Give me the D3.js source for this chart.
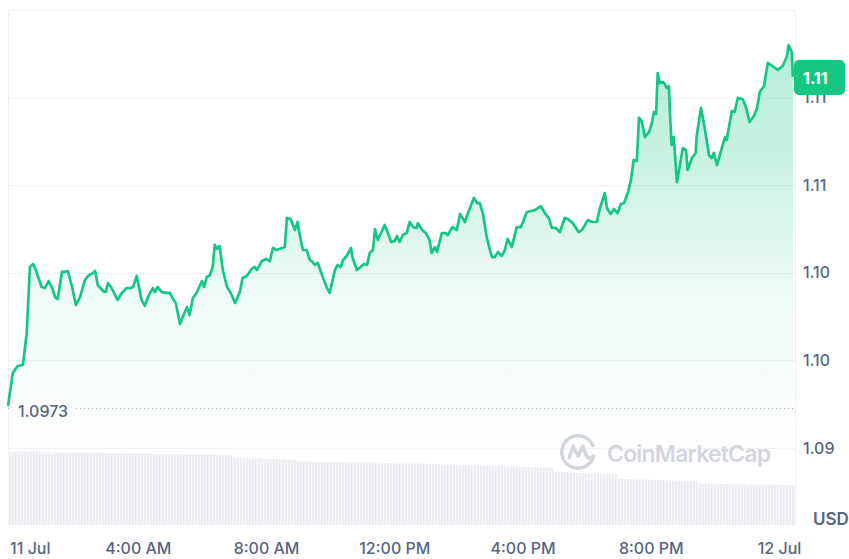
<!DOCTYPE html>
<html>
<head>
<meta charset="utf-8">
<script src="https://cdn.jsdelivr.net/npm/d3@7"></script>
<style>
  body { margin: 0; background: #fff; }
  svg { display: block; font-family: Inter, "Noto Sans", sans-serif; }
</style>
</head>
<body>
<div id="chart"></div>
<script>
// minutes after 11 Jul 00:00 (UTC) for every price point
const priceMinutes = [
  -3, 6, 15, 25, 32, 38, 44, 49, 60, 66,
  73, 79, 85, 90, 98, 103, 109, 117, 124, 132,
  141, 147, 156, 160, 165, 175, 180, 184, 191, 202,
  210, 219, 227, 231, 238, 242, 247, 253, 259, 268,
  272, 277, 285, 294, 300, 306, 311, 319, 324, 332,
  337, 343, 350, 360, 364, 369, 375, 380, 384, 388,
  393, 399, 407, 414, 422, 431, 436, 444, 453, 459,
  463, 472, 480, 487, 493, 500, 510, 515, 519, 526,
  534, 539, 543, 549, 556, 562, 567, 571, 577, 586,
  594, 599, 609, 614, 620, 624, 631, 639, 642, 650,
  657, 663, 669, 674, 680, 684, 689, 695, 702, 708,
  714, 721, 725, 730, 736, 743, 749, 755, 762, 764,
  772, 779, 786, 790, 796, 800, 809, 816, 820, 829,
  837, 843, 852, 858, 869, 875, 880, 886, 893, 899,
  903, 908, 914, 921, 927, 932, 940, 949, 957, 968,
  977, 983, 994, 1002, 1009, 1015, 1022, 1030, 1039, 1045,
  1054, 1065, 1071, 1077, 1082, 1090, 1099, 1105, 1114, 1118,
  1125, 1131, 1138, 1144, 1150, 1157, 1163, 1168, 1174, 1178,
  1183, 1189, 1197, 1202, 1206, 1210, 1213, 1217, 1223, 1226,
  1230, 1234, 1236, 1239, 1243, 1249, 1254, 1260, 1266, 1269,
  1277, 1284, 1286, 1294, 1301, 1309, 1314, 1318, 1324, 1333,
  1339, 1342, 1352, 1357, 1363, 1372, 1378, 1385, 1393, 1399,
  1404, 1412, 1419, 1428, 1438, 1447, 1455, 1458, 1464, 1466
];

const prices = [
  1.0974, 1.09928, 1.09968, 1.09974, 1.10156, 1.10533, 1.10550, 1.10516, 1.10419, 1.10413,
  1.10453, 1.10419, 1.10362, 1.10350, 1.10505, 1.10505, 1.10510, 1.10419, 1.10316, 1.10362,
  1.10459, 1.10482, 1.10499, 1.10510, 1.10430, 1.10396, 1.10390, 1.10442, 1.10413, 1.10345,
  1.10385, 1.10413, 1.10413, 1.10419, 1.10482, 1.10419, 1.10345, 1.10311, 1.10362, 1.10413,
  1.10390, 1.10419, 1.10390, 1.10385, 1.10385, 1.10350, 1.10328, 1.10208, 1.10248, 1.10305,
  1.10259, 1.10356, 1.10385, 1.10453, 1.10419, 1.10476, 1.10487, 1.10533, 1.10659, 1.10636,
  1.10653, 1.10516, 1.10419, 1.10385, 1.10328, 1.10390, 1.10470, 1.10482, 1.10522, 1.10533,
  1.10516, 1.10567, 1.10579, 1.10567, 1.10642, 1.10630, 1.10642, 1.10647, 1.10813, 1.10807,
  1.10744, 1.10790, 1.10716, 1.10630, 1.10630, 1.10573, 1.10562, 1.10545, 1.10556, 1.10476,
  1.10413, 1.10385, 1.10516, 1.10545, 1.10533, 1.10573, 1.10596, 1.10642, 1.10585, 1.10516,
  1.10533, 1.10550, 1.10545, 1.10613, 1.10630, 1.10750, 1.10687, 1.10727, 1.10773, 1.10727,
  1.10676, 1.10682, 1.10710, 1.10676, 1.10716, 1.10727, 1.10790, 1.10761, 1.10756, 1.10784,
  1.10744, 1.10727, 1.10687, 1.10613, 1.10647, 1.10619, 1.10727, 1.10727, 1.10716, 1.10761,
  1.10744, 1.10836, 1.10790, 1.10841, 1.10927, 1.10898, 1.10898, 1.10836, 1.10704, 1.10630,
  1.10590, 1.10590, 1.10619, 1.10596, 1.10630, 1.10693, 1.10647, 1.10761, 1.10761, 1.10847,
  1.10853, 1.10858, 1.10881, 1.10841, 1.10813, 1.10756, 1.10756, 1.10733, 1.10813, 1.10807,
  1.10784, 1.10733, 1.10744, 1.10773, 1.10801, 1.10790, 1.10790, 1.10870, 1.10955, 1.10870,
  1.10836, 1.10864, 1.10841, 1.10893, 1.10898, 1.10955, 1.11030, 1.11144, 1.11138, 1.11384,
  1.11366, 1.11275, 1.11304, 1.11355, 1.11418, 1.11406, 1.11640, 1.11583, 1.11589, 1.11578,
  1.11555, 1.11566, 1.11412, 1.11229, 1.11275, 1.11018, 1.11104, 1.11212, 1.11201, 1.11087,
  1.11155, 1.11184, 1.11281, 1.11441, 1.11327, 1.11172, 1.11155, 1.11184, 1.11115, 1.11212,
  1.11275, 1.11258, 1.11424, 1.11418, 1.11498, 1.11492, 1.11446, 1.11361, 1.11395, 1.11441,
  1.11532, 1.11566, 1.11698, 1.11680, 1.11658, 1.11680, 1.11737, 1.11800, 1.11760, 1.11618
];

const openPrice = 1.0973;

// 30-minute volume buckets, starting at -3 min
const volumes = [
  73, 73, 72.8, 72.5, 72.5, 72.3, 72, 72, 71.5, 71.2,
  71, 70.5, 70.5, 70, 67, 66.5, 66, 65.5, 63.5, 63,
  63, 62.5, 62.5, 62, 62, 61.5, 61, 60.5, 60, 59.5,
  59, 58.5, 58, 57.5, 53, 52, 51.5, 51, 46, 45.5,
  45, 44.5, 44, 41.5, 41, 41, 40.5, 40.5, 40
];

const yTicks = [1.095, 1.1, 1.105, 1.11, 1.115, 1.12];
const xTickMinutes = [0, 240, 480, 720, 960, 1200, 1440];
const xTickLabels = ['11 Jul', '4:00 AM', '8:00 AM', '12:00 PM', '4:00 PM', '8:00 PM', '12 Jul'];

const width = 849;
const height = 559;
const plotLeft = 8, plotRight = 795, plotTop = 10, priceBottom = 448, volBottom = 525;
const green = '#16c784';
const gridColor = '#eff2f5';
const textColor = '#58667e';

const dayStart = Date.UTC(2023, 6, 11);
const toDate = m => new Date(dayStart + m * 60000);

const svg = d3.select('#chart')
  .append('svg')
  .attr('width', width)
  .attr('height', height);

const x = d3.scaleUtc()
  .domain([toDate(-3), toDate(1470)])
  .range([plotLeft, plotRight]);

const y = d3.scaleLinear()
  .domain([1.095, 1.12])
  .range([priceBottom, plotTop]);

const vy = d3.scaleLinear()
  .domain([0, 80])
  .range([volBottom, volBottom - 80]);

// truncate to 2 decimals, the way the labels read
const trunc2 = v => (Math.floor(v * 100 + 1e-9) / 100).toFixed(2);

const data = priceMinutes.map((m, i) => ({ date: toDate(m), value: prices[i] }));

const defs = svg.append('defs');

const grad = defs.append('linearGradient')
  .attr('id', 'areaGrad')
  .attr('gradientUnits', 'userSpaceOnUse')
  .attr('x1', 0).attr('x2', 0)
  .attr('y1', 45).attr('y2', priceBottom);
grad.append('stop').attr('offset', 0).attr('stop-color', green).attr('stop-opacity', 0.32);
grad.append('stop').attr('offset', 0.26).attr('stop-color', green).attr('stop-opacity', 0.24);
grad.append('stop').attr('offset', 0.63).attr('stop-color', green).attr('stop-opacity', 0.07);
grad.append('stop').attr('offset', 1).attr('stop-color', green).attr('stop-opacity', 0.0);

const stripes = defs.append('pattern')
  .attr('id', 'volStripes')
  .attr('patternUnits', 'userSpaceOnUse')
  .attr('width', 3)
  .attr('height', 10);
stripes.append('rect').attr('width', 3).attr('height', 10).attr('fill', '#f6f7f9');
stripes.append('rect').attr('width', 1.6).attr('height', 10).attr('fill', '#e9ebef');

// Gridlines
svg.append('g')
  .selectAll('line')
  .data(yTicks)
  .enter()
  .append('line')
  .attr('x1', plotLeft)
  .attr('x2', plotRight)
  .attr('y1', d => Math.round(y(d)) + 0.5)
  .attr('y2', d => Math.round(y(d)) + 0.5)
  .attr('stroke', gridColor);

// Side borders
svg.append('line')
  .attr('x1', plotLeft + 0.5).attr('x2', plotLeft + 0.5)
  .attr('y1', plotTop).attr('y2', volBottom)
  .attr('stroke', gridColor);
svg.append('line')
  .attr('x1', plotRight + 0.5).attr('x2', plotRight + 0.5)
  .attr('y1', plotTop).attr('y2', volBottom)
  .attr('stroke', gridColor);

// Volume bars
svg.append('g')
  .selectAll('rect')
  .data(volumes)
  .enter()
  .append('rect')
  .attr('x', (d, i) => x(toDate(-3 + i * 30)))
  .attr('width', (d, i) => {
    const end = i < volumes.length - 1 ? -3 + (i + 1) * 30 : 1470;
    return x(toDate(end)) - x(toDate(-3 + i * 30));
  })
  .attr('y', d => vy(d))
  .attr('height', d => volBottom - vy(d))
  .attr('fill', 'url(#volStripes)');

// Watermark
const wm = svg.append('g').attr('transform', 'translate(578,452)');
wm.append('path')
  .attr('d', d3.arc()({ innerRadius: 14.5, outerRadius: 18, startAngle: 0.55 * Math.PI, endAngle: 2.4 * Math.PI }))
  .attr('fill', '#d3d6dd');
wm.append('path')
  .attr('d', 'M-9,6 L-5,-6 L0,4 L5,-6 L8,3 Q10,8 14,5')
  .attr('fill', 'none')
  .attr('stroke', '#d3d6dd')
  .attr('stroke-width', 3.5)
  .attr('stroke-linejoin', 'round')
  .attr('stroke-linecap', 'round');
svg.append('text')
  .attr('x', 607)
  .attr('y', 462)
  .attr('font-size', 23)
  .attr('font-weight', 600)
  .attr('fill', '#d3d6dd')
  .attr('textLength', 164)
  .text('CoinMarketCap');

// Price area + line
const area = d3.area()
  .x(d => x(d.date))
  .y0(priceBottom)
  .y1(d => y(d.value));

const line = d3.line()
  .x(d => x(d.date))
  .y(d => y(d.value));

svg.append('path')
  .datum(data)
  .attr('d', area)
  .attr('fill', 'url(#areaGrad)');

// Open price reference line, broken where its label sits
const openY = Math.round(y(openPrice)) + 0.5;
svg.append('g')
  .selectAll('line')
  .data([[plotLeft, 12], [76, plotRight]])
  .enter()
  .append('line')
  .attr('x1', d => d[0])
  .attr('x2', d => d[1])
  .attr('y1', openY)
  .attr('y2', openY)
  .attr('stroke', '#a9b0bc')
  .attr('stroke-dasharray', '1,3');
svg.append('text')
  .attr('x', 18)
  .attr('y', y(openPrice) + 4)
  .attr('dy', '0.35em')
  .attr('font-size', 16)
  .attr('font-weight', 500)
  .attr('fill', textColor)
  .text(openPrice.toFixed(4));

svg.append('path')
  .datum(data)
  .attr('d', line)
  .attr('fill', 'none')
  .attr('stroke', green)
  .attr('stroke-width', 2.7)
  .attr('stroke-linejoin', 'round');

// Y axis (right)
const yAxis = svg.append('g')
  .attr('transform', `translate(${plotRight},0)`)
  .call(d3.axisRight(y).tickValues(yTicks.slice(0, 5)).tickSize(0).tickPadding(8).tickFormat(trunc2));
yAxis.select('.domain').remove();
yAxis.selectAll('text')
  .attr('font-family', 'Inter, sans-serif')
  .attr('font-size', 16)
  .attr('font-weight', 500)
  .attr('fill', textColor);

// X axis
const xAxis = svg.append('g')
  .attr('transform', 'translate(0,548)')
  .call(d3.axisBottom(x)
    .tickValues(xTickMinutes.map(toDate))
    .tickSize(0)
    .tickPadding(0)
    .tickFormat((d, i) => xTickLabels[i]));
xAxis.select('.domain').remove();
xAxis.selectAll('text')
  .attr('dy', '0.35em')
  .attr('font-family', 'Inter, sans-serif')
  .attr('font-size', 16)
  .attr('font-weight', 500)
  .attr('fill', textColor);
xAxis.select('.tick text').attr('text-anchor', 'start');

svg.append('text')
  .attr('x', 813)
  .attr('y', 519)
  .attr('dy', '0.35em')
  .attr('font-size', 17)
  .attr('font-weight', 600)
  .attr('fill', textColor)
  .text('USD');

// Last price badge
const last = data[data.length - 1];
const badgeY = y(last.value);
svg.append('rect')
  .attr('x', 794)
  .attr('y', badgeY - 17)
  .attr('width', 51)
  .attr('height', 35)
  .attr('rx', 5)
  .attr('fill', green);
svg.append('text')
  .attr('x', 803)
  .attr('y', badgeY + 1)
  .attr('dy', '0.35em')
  .attr('font-size', 16)
  .attr('font-weight', 700)
  .attr('fill', '#fff')
  .text(trunc2(last.value));
</script>
</body>
</html>
